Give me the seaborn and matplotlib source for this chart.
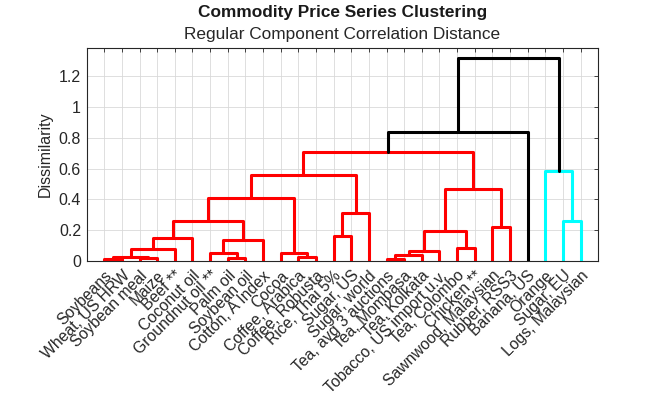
import numpy as np
import pandas as pd
import matplotlib
matplotlib.use("Agg")
import matplotlib.pyplot as plt
import matplotlib.transforms as mtransforms
import seaborn as sns

# leaves in dendrogram order (left to right)
leaf_labels = ['Soybeans', 'Wheat, US HRW', 'Soybean meal', 'Maize', 'Beef **',
               'Coconut oil', 'Groundnut oil **', 'Palm oil', 'Soybean oil',
               'Cotton, A Index', 'Cocoa', 'Coffee, Arabica', 'Coffee, Robusta',
               'Rice, Thai 5%', 'Sugar, US', 'Sugar, world', 'Tea, avg 3 auctions',
               'Tea, Mombasa', 'Tea, Kolkata', 'Tobacco, US import u.v.',
               'Tea, Colombo', 'Chicken **', 'Sawnwood, Malaysian', 'Rubber, RSS3',
               'Banana, US', 'Orange', 'Sugar, EU', 'Logs, Malaysian']

# merges: ids < 28 are leaves, id 28+k is the k-th merge
merge_left = [0, 16, 2, 7, 11, 28, 29, 6, 10, 34, 33, 20, 35, 38, 13,
              37, 22, 26, 41, 42, 46, 43, 48, 25, 50, 52, 53]
merge_right = [1, 17, 3, 8, 12, 30, 18, 31, 32, 19, 4, 21, 9, 5, 14,
               39, 23, 27, 40, 15, 36, 44, 47, 45, 49, 24, 51]
merge_height = [0.011, 0.013, 0.017, 0.017, 0.028, 0.028, 0.041, 0.050, 0.050,
                0.066, 0.078, 0.082, 0.134, 0.151, 0.162, 0.195, 0.222, 0.261,
                0.263, 0.313, 0.410, 0.466, 0.557, 0.583, 0.707, 0.835, 1.320]

n = len(leaf_labels)
threshold = 0.75
cluster_colors = ['#ff0000', '#00ffff']

# node positions
xpos = {i: i + 1.0 for i in range(n)}
ypos = {i: 0.0 for i in range(n)}
children = {}
for k, (a, b, h) in enumerate(zip(merge_left, merge_right, merge_height)):
    node = n + k
    xpos[node] = (xpos[a] + xpos[b]) / 2
    ypos[node] = h
    children[node] = (a, b)

# colour clusters that sit below the threshold
node_color = {}
def paint(node, col):
    node_color[node] = col
    if node in children:
        for c in children[node]:
            paint(c, col)

roots = []
def find_roots(node):
    if ypos[node] < threshold:
        if node in children:
            roots.append(node)
        return
    for c in children[node]:
        find_roots(c)
find_roots(n + len(merge_height) - 1)
roots.sort(key=lambda r: xpos[r])
for r, col in zip(roots, cluster_colors):
    paint(r, col)

# build U shaped link segments
rows = []
for k, (a, b, h) in enumerate(zip(merge_left, merge_right, merge_height)):
    node = n + k
    col = node_color.get(node, 'black')
    for px, py in [(xpos[a], ypos[a]), (xpos[a], h), (xpos[b], h), (xpos[b], ypos[b])]:
        rows.append({'x': px, 'y': py, 'link': k, 'color': col})
links = pd.DataFrame(rows)

sns.set_style("white")
plt.rcParams['font.family'] = ['Liberation Sans', 'DejaVu Sans']

fig = plt.figure(figsize=(6.61, 3.98), dpi=100)
ax = fig.add_axes([0.131, 0.344, 0.774, 0.536])

sns.lineplot(data=links, x='x', y='y', units='link', estimator=None, sort=False,
             hue='color', palette={c: c for c in links['color'].unique()},
             linewidth=2.2, legend=False, ax=ax)

ax.set_xlim(0, n + 1)
ax.set_ylim(0, 1.385)
ax.set_xticks(np.arange(1, n + 1))
ax.set_xticklabels(leaf_labels, rotation=45, ha='right', va='top',
                   rotation_mode='anchor', fontsize=11.3, color='#262626')
shift = mtransforms.ScaledTranslation(6 / 100, 0, fig.dpi_scale_trans)
for lab in ax.get_xticklabels():
    lab.set_transform(lab.get_transform() + shift)
ax.set_yticks([0, 0.2, 0.4, 0.6, 0.8, 1, 1.2])
ax.set_yticklabels(['0', '0.2', '0.4', '0.6', '0.8', '1', '1.2'],
                   fontsize=11.5, color='#262626')
ax.tick_params(direction='in', top=True, right=True, length=3, width=0.6,
               color='#262626', pad=4)
ax.tick_params(axis='x', pad=5)
ax.grid(True, color='#d9d9d9', linewidth=0.6)
ax.set_axisbelow(True)
for s in ax.spines.values():
    s.set_color('#262626')
    s.set_linewidth(0.8)
ax.set_xlabel('')
ax.set_ylabel('Dissimilarity', fontsize=11.5, color='#262626')

# two line title, centred over the axes
tx = mtransforms.blended_transform_factory(ax.transAxes, fig.transFigure)
fig.text(0.5, 0.968, 'Commodity Price Series Clustering', ha='center', va='center',
         fontsize=12.4, fontweight='bold', color='#1a1a1a', transform=tx)
fig.text(0.5, 0.913, 'Regular Component Correlation Distance', ha='center',
         va='center', fontsize=12.4, color='#262626', transform=tx)

fig.savefig('out.png', dpi=100)
